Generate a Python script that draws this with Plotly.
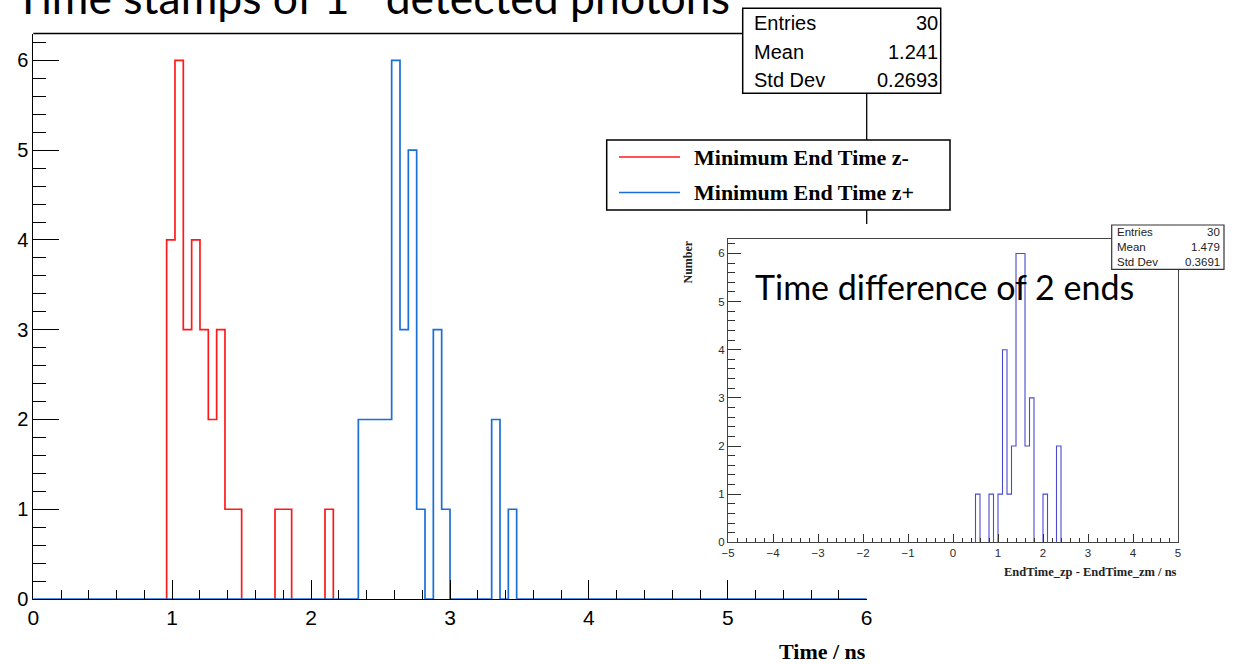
import numpy as np
import plotly.graph_objects as go

# ---------------- data ----------------
# main histogram: 100 bins of 0.06 ns over [0, 6]
main_lo, main_width, main_nbins = 0.0, 0.06, 100
red_bin_starts = [0.96, 1.02, 1.08, 1.14, 1.20, 1.26, 1.32, 1.38, 1.44, 1.74, 1.80, 2.10]
red_counts = [4, 6, 3, 4, 3, 2, 3, 1, 1, 1, 1, 1]
blue_bin_starts = [2.34, 2.40, 2.46, 2.52, 2.58, 2.64, 2.70, 2.76, 2.88, 2.94, 3.30, 3.42]
blue_counts = [2, 2, 2, 2, 6, 3, 5, 1, 3, 1, 2, 1]

# inset histogram: 100 bins of 0.1 ns over [-5, 5]
diff_lo, diff_width, diff_nbins = -5.0, 0.1, 100
diff_bin_starts = [0.5, 0.8, 1.0, 1.1, 1.2, 1.3, 1.4, 1.5, 1.6, 1.7, 2.0, 2.3]
diff_counts = [1, 1, 1, 4, 1, 2, 6, 6, 2, 3, 1, 2]

series_names = ["Minimum End Time z-", "Minimum End Time z+"]
stat_labels = ["Entries", "Mean", "Std Dev"]
main_stat_values = ["30", "1.241", "0.2693"]
diff_stat_values = ["30", "1.479", "0.3691"]

main_x_ticks = [0, 1, 2, 3, 4, 5, 6]
main_y_ticks = [0, 1, 2, 3, 4, 5, 6]
diff_x_ticks = [-5, -4, -3, -2, -1, 0, 1, 2, 3, 4, 5]
diff_y_ticks = [0, 1, 2, 3, 4, 5, 6]

RED = "#ff1a1a"
BLUE = "#1a6fd6"
PURPLE = "#4a4ad0"

W, H = 1240, 664


def px(x):
    return x / W


def py(y):
    return 1 - y / H


def full_counts(starts, counts, lo, width, nbins):
    arr = np.zeros(nbins)
    for s, c in zip(starts, counts):
        arr[int(round((s - lo) / width))] += c
    return arr


def step_path(lo, width, counts, keep_baseline):
    n = len(counts)
    edges = lo + width * np.arange(n + 1)
    xs, ys = [], []
    if keep_baseline:
        xs.append(edges[0]); ys.append(0)
        for i in range(n):
            xs += [edges[i], edges[i + 1]]
            ys += [counts[i], counts[i]]
        xs.append(edges[-1]); ys.append(0)
        return xs, ys
    prev = 0
    for i in range(n):
        c = counts[i]
        l, r = edges[i], edges[i + 1]
        if c > 0:
            if prev == 0:
                xs.append(l); ys.append(0)
            xs += [l, r]; ys += [c, c]
        elif prev > 0:
            xs += [l, None]; ys += [0, None]
        prev = c
    if prev > 0:
        xs.append(edges[-1]); ys.append(0)
    return xs, ys


red_full = full_counts(red_bin_starts, red_counts, main_lo, main_width, main_nbins)
blue_full = full_counts(blue_bin_starts, blue_counts, main_lo, main_width, main_nbins)
diff_full = full_counts(diff_bin_starts, diff_counts, diff_lo, diff_width, diff_nbins)

fig = go.Figure()
rx, ry = step_path(main_lo, main_width, red_full, False)
bx, by = step_path(main_lo, main_width, blue_full, True)
dx, dy = step_path(diff_lo, diff_width, diff_full, False)

fig.add_trace(go.Scatter(x=rx, y=ry, mode="lines", name=series_names[0],
                         line=dict(color=RED, width=1.7), connectgaps=False,
                         hoverinfo="skip", xaxis="x", yaxis="y"))
fig.add_trace(go.Scatter(x=bx, y=by, mode="lines", name=series_names[1],
                         line=dict(color=BLUE, width=1.7),
                         hoverinfo="skip", xaxis="x", yaxis="y"))
fig.add_trace(go.Scatter(x=dx, y=dy, mode="lines", name="EndTime_zp - EndTime_zm",
                         line=dict(color=PURPLE, width=1.1), connectgaps=False,
                         hoverinfo="skip", xaxis="x2", yaxis="y2"))

# main plot frame in pixels
MX0, MX1, MY0, MY1 = 33.3, 866.7, 33.5, 599.0
# inset frame
IX0, IX1, IY0, IY1 = 728.0, 1178.0, 239.0, 542.3

axis_font = dict(family="Liberation Sans, Arial, sans-serif", size=21, color="black")
small_font = dict(family="Liberation Sans, Arial, sans-serif", size=11.5, color="#2a2a2a")

fig.update_layout(
    width=W, height=H,
    margin=dict(l=0, r=0, t=0, b=0, pad=0, autoexpand=False),
    paper_bgcolor="white", plot_bgcolor="white",
    showlegend=False,
    xaxis=dict(domain=[px(MX0), px(MX1)], range=[0, 6], anchor="y", automargin=False,
               tickvals=main_x_ticks, ticks="inside", ticklen=19, tickwidth=1,
               tickcolor="black", showline=True, linecolor="black", linewidth=1,
               showgrid=False, zeroline=False, tickfont=axis_font,
               minor=dict(ticks="inside", dtick=0.2, ticklen=9, tickwidth=1,
                          tickcolor="black", showgrid=False)),
    yaxis=dict(domain=[py(MY1), py(MY0)], range=[0, 6.3], anchor="x", automargin=False,
               tickvals=main_y_ticks, ticks="inside", ticklen=26, tickwidth=1,
               tickcolor="black", showline=True, linecolor="black", linewidth=1,
               showgrid=False, zeroline=False,
               tickfont=dict(family="Liberation Sans, Arial, sans-serif", size=20, color="black"),
               minor=dict(ticks="inside", dtick=0.2, ticklen=13, tickwidth=1,
                          tickcolor="black", showgrid=False)),
    xaxis2=dict(domain=[px(IX0), px(IX1)], range=[-5, 5], anchor="y2", automargin=False,
                tickvals=diff_x_ticks, ticks="inside", ticklen=8, tickwidth=1,
                tickcolor="#333333", showline=True, linecolor="#444444", linewidth=1,
                mirror=True, showgrid=False, zeroline=False, tickfont=small_font,
                minor=dict(ticks="inside", dtick=0.2, ticklen=4, tickwidth=1,
                           tickcolor="#333333", showgrid=False)),
    yaxis2=dict(domain=[py(IY1), py(IY0)], range=[0, 6.3], anchor="x2", automargin=False,
                tickvals=diff_y_ticks, ticks="inside", ticklen=13, tickwidth=1,
                tickcolor="#333333", showline=True, linecolor="#444444", linewidth=1,
                mirror=True, showgrid=False, zeroline=False, tickfont=small_font,
                minor=dict(ticks="inside", dtick=0.2, ticklen=7, tickwidth=1,
                           tickcolor="#333333", showgrid=False)),
)

shapes = []
# main frame top and right edges
shapes.append(dict(type="line", xref="paper", yref="paper", x0=px(MX0), x1=px(MX1),
                   y0=py(MY0), y1=py(MY0), line=dict(color="black", width=1.3)))
shapes.append(dict(type="line", xref="paper", yref="paper", x0=px(MX1), x1=px(MX1),
                   y0=py(MY0), y1=py(224), line=dict(color="black", width=1.3)))
# main stats box
shapes.append(dict(type="rect", xref="paper", yref="paper", x0=px(742.7), x1=px(940.7),
                   y0=py(93.3), y1=py(8.3), fillcolor="white",
                   line=dict(color="black", width=1.5)))
# legend box
shapes.append(dict(type="rect", xref="paper", yref="paper", x0=px(606.7), x1=px(950),
                   y0=py(210), y1=py(140), fillcolor="white",
                   line=dict(color="black", width=1.5)))
legend_rows = [157.0, 192.5]
for yy, col in zip(legend_rows, [RED, BLUE]):
    shapes.append(dict(type="line", xref="paper", yref="paper", x0=px(619), x1=px(680),
                       y0=py(yy), y1=py(yy), line=dict(color=col, width=1.7)))
# inset stats box
shapes.append(dict(type="rect", xref="paper", yref="paper", x0=px(1111.7), x1=px(1224),
                   y0=py(269.3), y1=py(225), fillcolor="white",
                   line=dict(color="#333333", width=1.2)))
fig.update_layout(shapes=shapes)

ann = []


def text(x, y, s, font, xanchor="left", yanchor="middle", angle=0):
    ann.append(dict(x=px(x), y=py(y), xref="paper", yref="paper", text=s,
                    showarrow=False, xanchor=xanchor, yanchor=yanchor,
                    font=font, textangle=angle, borderpad=0))


stat_font = dict(family="Liberation Sans, Arial, sans-serif", size=20, color="black")
for i, (lab, val) in enumerate(zip(stat_labels, main_stat_values)):
    yy = [23.5, 51.7, 80.0][i]
    text(752.7, yy, lab, stat_font, "left")
    text(938.5, yy, val, stat_font, "right")

small_stat_font = dict(family="Liberation Sans, Arial, sans-serif", size=11.5, color="#222222")
for i, (lab, val) in enumerate(zip(stat_labels, diff_stat_values)):
    yy = [231.5, 247.3, 262.5][i]
    text(1115.5, yy, lab, small_stat_font, "left")
    text(1220.5, yy, val, small_stat_font, "right")

legend_font = dict(family="Liberation Serif, Times New Roman, serif", size=22, color="black")
for name, yy in zip(series_names, legend_rows):
    text(692.7, yy, "<b>" + name + "</b>", legend_font, "left")

# axis titles
text(866.7, 651.0, "<b>Time / ns</b>",
     dict(family="Liberation Serif, Times New Roman, serif", size=22, color="black"),
     "right")
text(1178.0, 572.0, "<b>EndTime_zp - EndTime_zm / ns</b>",
     dict(family="Liberation Serif, Times New Roman, serif", size=12.5, color="#222222"),
     "right")
text(687.0, 240.0, "<b>Number</b>",
     dict(family="Liberation Serif, Times New Roman, serif", size=12, color="#222222"),
     "center", "top", -90)

# slide captions (the first one is partly cut off by the top edge, as in the slide)
text(14.0, 24.0, "Time stamps of 1<sup>st</sup> detected photons",
     dict(family="Lato, Open Sans, sans-serif", size=44.5, color="black"), "left", "bottom")
text(754.0, 286.0, "Time difference of 2 ends",
     dict(family="Lato, Open Sans, sans-serif", size=34, color="black"), "left", "middle")

fig.update_layout(annotations=ann)
fig.write_html("out.html", config={"displayModeBar": False, "staticPlot": True},
               post_script="document.body.style.margin='0';document.body.style.overflow='hidden';")
